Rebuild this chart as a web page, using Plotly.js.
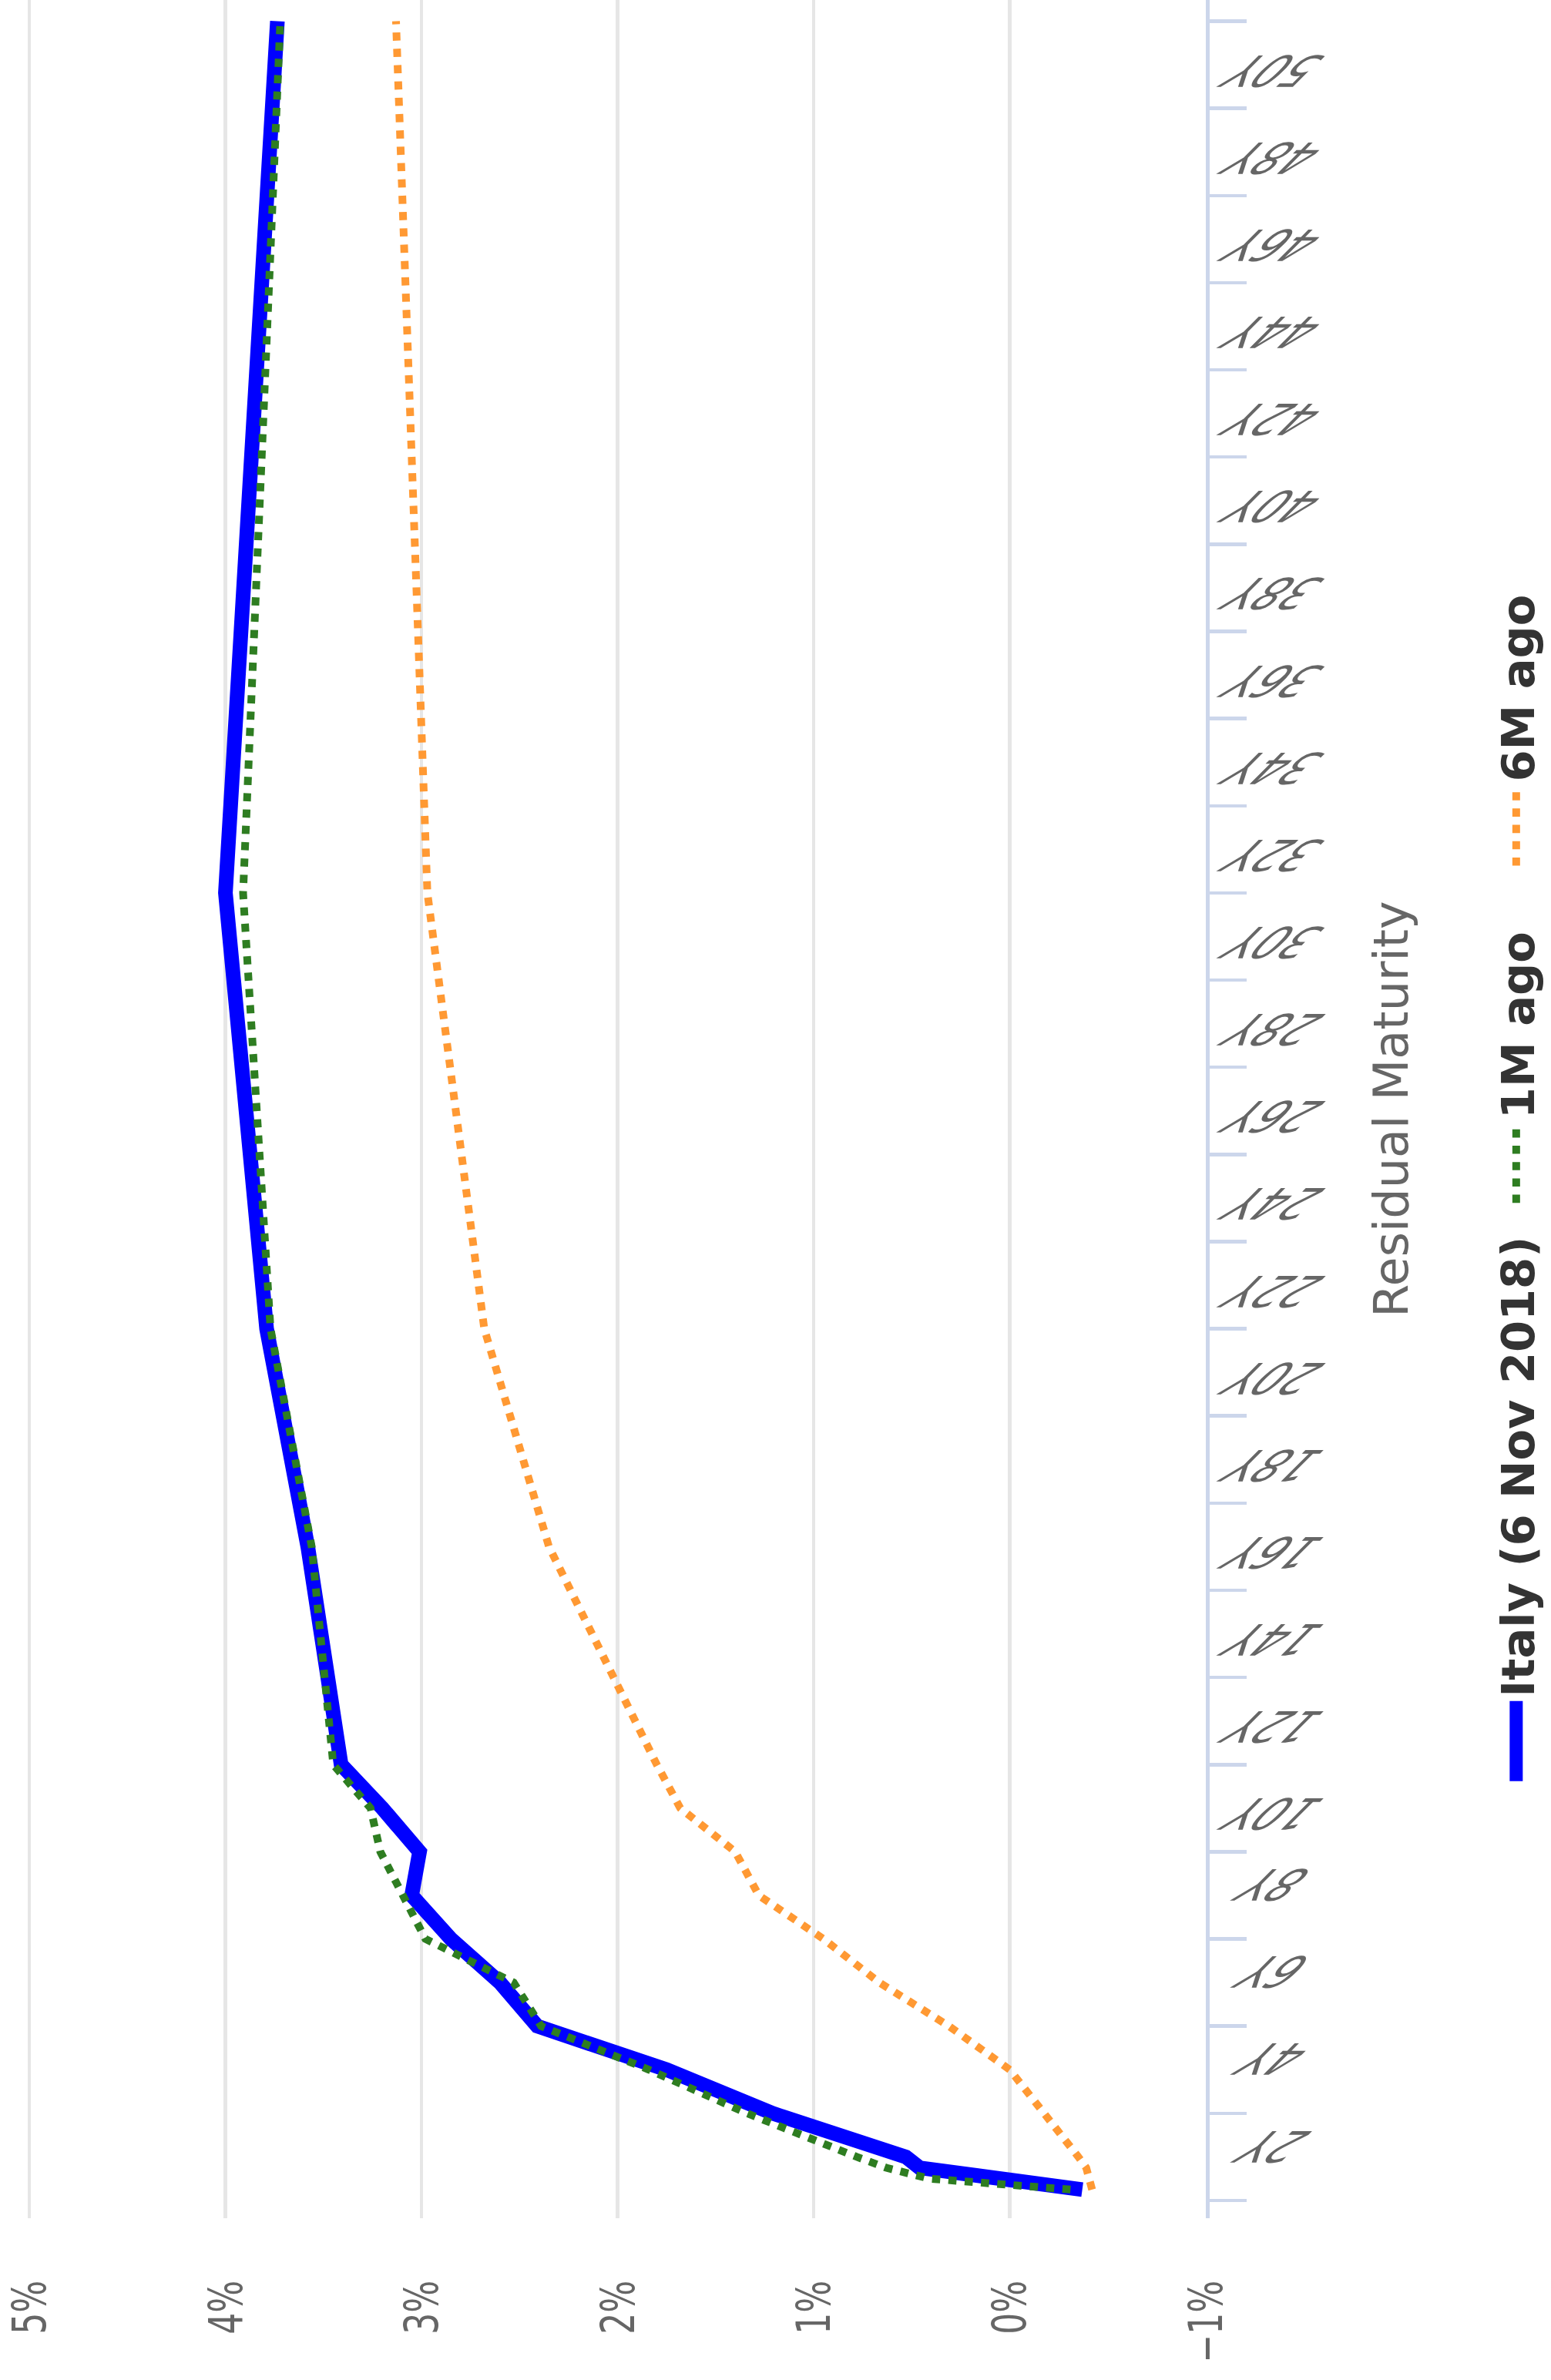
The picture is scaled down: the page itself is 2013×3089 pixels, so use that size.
<!DOCTYPE html>
<html>
<head>
<meta charset="utf-8">
<script src="https://cdn.plot.ly/plotly-3.0.1.min.js"></script>
<style>
html, body { margin:0; padding:0; background:#ffffff; overflow:hidden; width:2013px; height:3089px; }
#wrap { position:absolute; left:0; top:0; width:3089px; height:2013px;
        transform-origin:0 0; transform:translate(0px, 3089px) rotate(-90deg); }
#chart { width:3089px; height:2013px; }
</style>
</head>
<body>
<div id="wrap"><div id="chart"></div></div>
<script>
// ---- data (years to maturity, yield in %) ----
const maturities   = [0.25, 0.5, 0.75, 1, 2, 3, 4, 5, 6, 7, 8, 9, 10, 15, 20, 30, 50];
const italyNow     = [-0.37, 0.00, 0.46, 0.53, 1.21, 1.75, 2.41, 2.60, 2.85, 3.05, 3.01, 3.20, 3.41, 3.58, 3.79, 4.00, 3.735];
const oneMonthAgo  = [-0.31, 0.41, 0.63, 0.78, 1.34, 1.84, 2.39, 2.53, 2.98, 3.09, 3.21, 3.26, 3.45, 3.56, 3.77, 3.91, 3.72];
const sixMonthsAgo = [-0.42, -0.40, -0.39, -0.35, -0.17, 0.00, 0.31, 0.665, 0.95, 1.28, 1.40, 1.68, 1.80, 2.35, 2.68, 2.97, 3.13];
const seriesNames  = ['Italy (6 Nov 2018)', '1M ago', '6M ago'];

const maturityTickVals = [0, 2, 4, 6, 8, 10, 12, 14, 16, 18, 20, 22, 24, 26, 28, 30, 32, 34, 36, 38, 40, 42, 44, 46, 48, 50];
const maturityTickText = ['', '2Y', '4Y', '6Y', '8Y', '10Y', '12Y', '14Y', '16Y', '18Y', '20Y', '22Y', '24Y', '26Y', '28Y', '30Y', '32Y', '34Y', '36Y', '38Y', '40Y', '42Y', '44Y', '46Y', '48Y', '50Y'];
const yieldTickVals = [-1, 0, 1, 2, 3, 4, 5];
const yieldTickText = ['\u22121%', '0%', '1%', '2%', '3%', '4%', '5%'];

const FONT = 'DejaVu Sans, Verdana, sans-serif';

const traces = [
  { x: maturities, y: italyNow, name: seriesNames[0], type: 'scatter', mode: 'lines',
    legend: 'legend', line: { color: '#0000ff', width: 19 } },
  { x: maturities, y: oneMonthAgo, name: seriesNames[1], type: 'scatter', mode: 'lines',
    legend: 'legend2', line: { color: '#2e7d21', width: 10, dash: '10.6px,10.6px' } },
  { x: maturities, y: sixMonthsAgo, name: seriesNames[2], type: 'scatter', mode: 'lines',
    legend: 'legend3', line: { color: '#ff9933', width: 10, dash: '10.6px,10.6px' } }
];

const legendFont = { family: FONT, size: 59, color: '#333333', weight: 'bold' };
const legendY = -0.2338;
function legendAt(x) {
  return { orientation: 'h', x: x, xanchor: 'left', y: legendY, yanchor: 'top',
           font: legendFont, itemwidth: 104, bgcolor: 'rgba(0,0,0,0)' };
}

const layout = {
  width: 3089, height: 2013,
  margin: { l: 210, r: 0, t: 33, b: 440, pad: 0 },
  paper_bgcolor: '#ffffff', plot_bgcolor: '#ffffff',
  font: { family: FONT, color: '#666666' },
  showlegend: true,
  xaxis: {
    range: [-0.407, 50.486],
    tickmode: 'array', tickvals: maturityTickVals, ticktext: maturityTickText,
    ticks: 'outside', ticklen: 48, tickwidth: 4.5, tickcolor: '#ccd6eb',
    showline: true, linecolor: '#ccd6eb', linewidth: 4.5,
    showgrid: false, zeroline: false,
    tickangle: -90, tickfont: { family: FONT, size: 56, color: '#666666' },
    ticklabeloverflow: 'allow', automargin: false,
    title: { text: 'Residual Maturity', font: { family: FONT, size: 62, color: '#666666' }, standoff: 40 }
  },
  yaxis: {
    range: [-1, 5.02],
    tickmode: 'array', tickvals: yieldTickVals, ticktext: yieldTickText,
    showgrid: true, gridcolor: '#e6e6e6', gridwidth: 4.5,
    zeroline: false, showline: false, ticks: '',
    tickfont: { family: FONT, size: 44, color: '#666666' },
    ticklabelstandoff: 80, automargin: false
  },
  legend:  legendAt(0.1953),
  legend2: legendAt(0.4560),
  legend3: legendAt(0.6080)
};

// label centre (in the rotated page) of the maturity tick labels
const LABEL_CENTER_X = 1652;

function styleTickLabels(gd) {
  const fl = gd._fullLayout;
  const xa = fl.xaxis;
  gd.querySelectorAll('.xaxislayer-above .xtick text').forEach(function (t) {
    const bb = t.getBBox();
    if (!bb.width) return;
    const d = t.__data__ || (t.parentNode && t.parentNode.__data__);
    const yc = bb.y + bb.height * 0.797;
    const tr = t.getAttribute('transform') || '';
    const skewed = tr + ' translate(0,' + yc + ') skewX(-45) translate(0,' + (-yc) + ')';
    t.setAttribute('transform', skewed);
    if (!d) return;
    const r = t.getBoundingClientRect();
    const cX = (r.left + r.right) / 2, cY = (r.top + r.bottom) / 2;
    const tickOrigX = fl._size.l + xa.l2p(d.x);
    const wantY = 3089 - tickOrigX + 0.6 * bb.width;
    const dyOrig = LABEL_CENTER_X - cX;
    const dxOrig = -(wantY - cY);
    t.setAttribute('transform', 'translate(' + dxOrig + ',' + dyOrig + ') ' + skewed);
  });
  gd.querySelectorAll('.yaxislayer-above .ytick text').forEach(function (t) {
    const bb = t.getBBox();
    const cy = bb.y + bb.height / 2;
    const tr = t.getAttribute('transform') || '';
    t.setAttribute('transform', tr + ' translate(0,' + cy + ') scale(1,1.36) translate(0,' + (-cy) + ')');
  });
  // thicker legend key for the current curve, as in the original legend
  const lg = gd.querySelector('.infolayer .legend');
  if (lg) {
    lg.querySelectorAll('.legendlines path').forEach(function (p) {
      p.style.strokeWidth = '17px';
    });
  }
}

Plotly.newPlot('chart', traces, layout, { staticPlot: true, displayModeBar: false })
  .then(styleTickLabels);
</script>
</body>
</html>
